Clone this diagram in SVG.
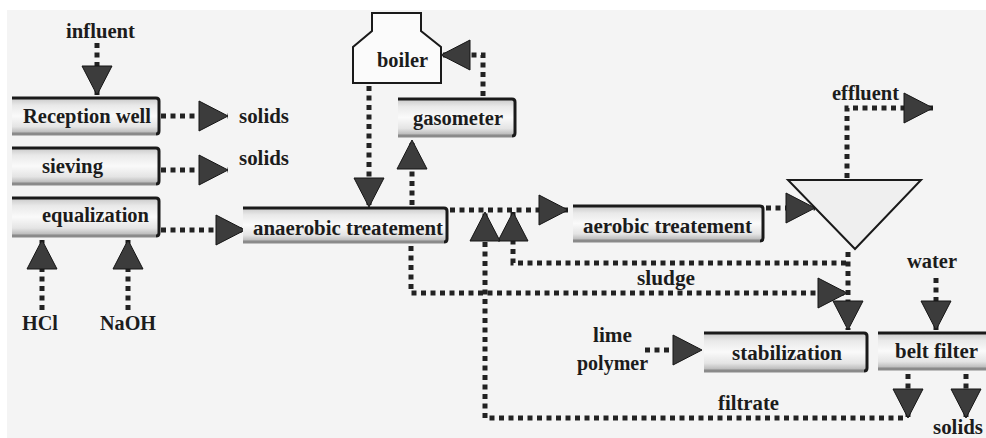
<svg xmlns="http://www.w3.org/2000/svg" width="986" height="438" viewBox="0 0 986 438">
<style>
.bx{fill:url(#boxg)}
.edge{fill:none;stroke:#1a1a1a;stroke-width:3}
.sh{fill:none;stroke:#8a8a8a;stroke-width:3}
.t{font-family:"Liberation Serif","Times New Roman",serif;font-weight:bold;font-size:20px;fill:#1c1c1c}
.flow{fill:none;stroke:#222;stroke-width:5;stroke-dasharray:5 4.5;marker-end:url(#ah)}
.shape{fill:#fbfbfb;stroke:#1a1a1a;stroke-width:2}
</style>
<defs>
<linearGradient id="boxg" x1="0" y1="0" x2="0" y2="1">
<stop offset="0" stop-color="#c4c4c4"/>
<stop offset="0.22" stop-color="#e9e9e9"/>
<stop offset="0.5" stop-color="#fafafa"/>
<stop offset="0.78" stop-color="#e4e4e4"/>
<stop offset="1" stop-color="#a8a8a8"/>
</linearGradient>
<marker id="ah" markerUnits="userSpaceOnUse" markerWidth="29" markerHeight="30" viewBox="0 0 29 30" refX="29" refY="15" orient="auto" overflow="visible">
<path d="M0,0 L29,15 L0,30 Z" fill="#3c3c3c" stroke="#151515" stroke-width="1"/>
</marker>
</defs>
<rect x="0" y="0" width="986" height="438" fill="#ffffff"/>
<rect x="7" y="10" width="979" height="428" fill="#f4f4f4"/>

<g id="connectors">
<path class="flow" d="M97,43 V95"/>
<path class="flow" d="M161,116 H228"/>
<path class="flow" d="M161,170 H228"/>
<path class="flow" d="M161,230 H245"/>
<path class="flow" d="M42,310 V240"/>
<path class="flow" d="M128,310 V240"/>
<path class="flow" d="M369,86 V207"/>
<path class="flow" d="M412,205 V140"/>
<path class="flow" d="M483,96 V55 H441"/>
<path class="flow" d="M450,210 H568"/>
<path class="flow" d="M766,208 H815"/>
<path class="flow" d="M847,178 V108 H933"/>
<path class="flow" d="M411,246 V293 H847"/>
<path class="flow" d="M848,252 V330"/>
<path class="flow" d="M846,263 H513 V212"/>
<path class="flow" d="M903,418 H485 V212"/>
<path class="flow" d="M645,350 H702"/>
<path class="flow" d="M936,278 V330"/>
<path class="flow" d="M908,374 V418"/>
<path class="flow" d="M966,374 V418"/>
</g>

<g id="reception-well">
<rect class="bx" x="12" y="97" width="147" height="38"/>
<path class="sh" d="M12,134 H156"/>
<path class="edge" d="M12,98 H156 Q159,98 159,101 V131 Q159,134 156,134"/>
<text class="t" x="23" y="123" textLength="128" lengthAdjust="spacingAndGlyphs">Reception well</text>
</g>
<g id="sieving">
<rect class="bx" x="12" y="147" width="147" height="38"/>
<path class="sh" d="M12,184 H156"/>
<path class="edge" d="M12,148 H156 Q159,148 159,151 V181 Q159,184 156,184"/>
<text class="t" x="42" y="173" textLength="61" lengthAdjust="spacingAndGlyphs">sieving</text>
</g>
<g id="equalization">
<rect class="bx" x="12" y="197" width="147" height="40"/>
<path class="sh" d="M12,236 H156"/>
<path class="edge" d="M12,198 H156 Q159,198 159,201 V233 Q159,236 156,236"/>
<text class="t" x="42" y="222" textLength="107" lengthAdjust="spacingAndGlyphs">equalization</text>
</g>
<g id="anaerobic">
<rect class="bx" x="243" y="207" width="204" height="36"/>
<path class="sh" d="M243,242 H444"/>
<path class="edge" d="M243,208 H444 Q447,208 447,211 V239 Q447,242 444,242"/>
<text class="t" x="253" y="235" textLength="190" lengthAdjust="spacingAndGlyphs">anaerobic treatement</text>
</g>
<g id="gasometer">
<rect class="bx" x="398" y="98" width="117" height="39"/>
<path class="sh" d="M398,136 H512"/>
<path class="edge" d="M398,99 H512 Q515,99 515,102 V133 Q515,136 512,136"/>
<text class="t" x="413" y="125" textLength="90" lengthAdjust="spacingAndGlyphs">gasometer</text>
</g>
<g id="boiler">
<polygon class="shape" points="372,13 421,13 421,31 441,47 441,83 353,83 353,47 372,31"/>
<text class="t" x="377" y="67" textLength="51" lengthAdjust="spacingAndGlyphs">boiler</text>
</g>
<g id="aerobic">
<rect class="bx" x="573" y="205" width="190" height="37"/>
<path class="sh" d="M573,241 H760"/>
<path class="edge" d="M573,206 H760 Q763,206 763,209 V238 Q763,241 760,241"/>
<text class="t" x="583" y="233" textLength="169" lengthAdjust="spacingAndGlyphs">aerobic treatement</text>
</g>
<g id="clarifier">
<polygon points="788,180 921,180 855,249" fill="#efefef" stroke="#1a1a1a" stroke-width="2"/>
</g>
<g id="stabilization">
<rect class="bx" x="704" y="332" width="163" height="40"/>
<path class="sh" d="M704,371 H864"/>
<path class="edge" d="M704,333 H864 Q867,333 867,336 V368 Q867,371 864,371"/>
<text class="t" x="732" y="360" textLength="110" lengthAdjust="spacingAndGlyphs">stabilization</text>
</g>
<g id="belt-filter">
<rect class="bx" x="878" y="332" width="112" height="38"/>
<path class="sh" d="M878,369 H990"/>
<path class="edge" d="M878,333 H990"/>
<text class="t" x="895" y="358" textLength="83" lengthAdjust="spacingAndGlyphs">belt filter</text>
</g>

<g id="labels">
<text class="t" x="66" y="38" textLength="69" lengthAdjust="spacingAndGlyphs">influent</text>
<text class="t" x="239" y="123" textLength="50" lengthAdjust="spacingAndGlyphs">solids</text>
<text class="t" x="239" y="165" textLength="50" lengthAdjust="spacingAndGlyphs">solids</text>
<text class="t" x="22" y="330" textLength="36" lengthAdjust="spacingAndGlyphs">HCl</text>
<text class="t" x="100" y="330" textLength="56" lengthAdjust="spacingAndGlyphs">NaOH</text>
<text class="t" x="832" y="100" textLength="67" lengthAdjust="spacingAndGlyphs">effluent</text>
<text class="t" x="637" y="285" textLength="58" lengthAdjust="spacingAndGlyphs">sludge</text>
<text class="t" x="907" y="268" textLength="50" lengthAdjust="spacingAndGlyphs">water</text>
<text class="t" x="593" y="342" textLength="39" lengthAdjust="spacingAndGlyphs">lime</text>
<text class="t" x="577" y="370" textLength="71" lengthAdjust="spacingAndGlyphs">polymer</text>
<text class="t" x="718" y="410" textLength="61" lengthAdjust="spacingAndGlyphs">filtrate</text>
<text class="t" x="933" y="434" textLength="50" lengthAdjust="spacingAndGlyphs">solids</text>
</g>
</svg>
